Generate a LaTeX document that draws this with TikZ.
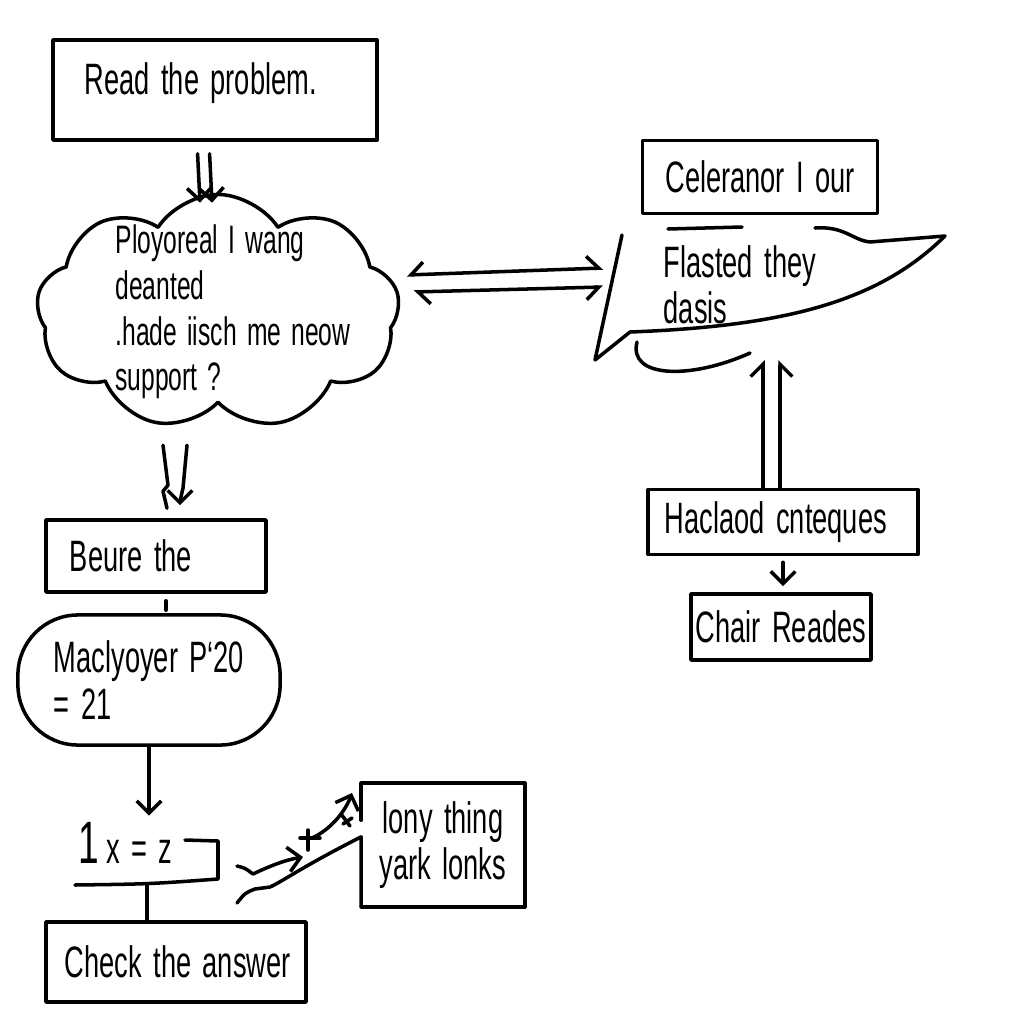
\documentclass[tikz,border=0pt]{standalone}
\usepackage{fontspec}
\setmainfont{Liberation Sans}[FakeStretch=0.62, WordSpace=1.5]
\usetikzlibrary{arrows.meta, positioning, shapes.symbols, calc}

\begin{document}
\begin{tikzpicture}[
    x=0.01cm, y=-0.01cm,
    >=Straight Barb,
    line width=1pt, line cap=round, line join=round,
    every node/.style={font=\fontsize{12.5}{13.2}\selectfont},
    box/.style={draw, inner sep=0pt, align=left},
    pod/.style={draw, inner sep=0pt, align=left, rounded corners=0.6cm}
  ]
  \useasboundingbox (0,0) rectangle (1024,1024);

  % left column
  \node[box, minimum width=3.24cm, minimum height=1cm, text depth=0.22cm] (read) at (215,90) {\makebox[2.6cm][l]{Read the problem.}};
  \node[cloud, draw, cloud puffs=9, cloud puff arc=115, aspect=1.55,
        minimum width=3.63cm, minimum height=2.35cm, inner xsep=-14pt, inner ysep=-8pt, align=left,
        font=\fontsize{11.3}{13}\selectfont] (cloud) at (218,312)
        {\hspace*{0.3cm}Ployoreal I wang\\\hspace*{0.3cm}deanted\\\hspace*{0.3cm}.hade iisch me neow\\\hspace*{0.3cm}support ?};
  \node[box, minimum width=2.2cm, minimum height=0.72cm] (beure) at (156,556) {\makebox[1.72cm][l]{Beure the}};
  \node[pod, minimum width=2.62cm, minimum height=1.3cm] (mac) at (149,680) {Maclyoyer P‘20\\= 21};
  \node[inner sep=0pt, anchor=west] (eqn) at (77,843) {{\fontsize{17}{17}\selectfont 1}\,x = z};
  \node[box, minimum width=2.6cm, minimum height=0.8cm] (check) at (176,962) {\makebox[2.22cm][l]{Check the answer}};
  \node[inner sep=0pt, align=center, minimum width=1.6cm, minimum height=1.2cm] (lb) at (443,845) {lony thing\\yark lonks};

  % right column
  \node[box, minimum width=2.35cm, minimum height=0.73cm, align=center] (celer) at (760,177) {Celeranor I our};
  \node[inner sep=0pt, align=left, anchor=west] (flag) at (662,285) {Flasted they\\dasis};
  \node[box, minimum width=2.7cm, minimum height=0.65cm] (hacl) at (783,522) {\makebox[2.36cm][l]{Haclaod cnteques}};
  \node[box, minimum width=1.8cm, minimum height=0.66cm, align=center] (chair) at (781,627) {Chair Reades};

  % flag outline
  \coordinate (fl1) at (603,268);
  \coordinate (fl2) at (603,287);
  \coordinate (fb1) at (763,360);
  \coordinate (fb2) at (780,360);
  \draw (622,235) -- (595,360) -- (630,332)
        .. controls (790,326) and (880,300) .. (945,236) -- (870,242)
        .. controls (852,240) and (845,226) .. (815,228);
  \draw (668,229) -- (742,227);
  \draw (637,342) .. controls (628,378) and (690,380) .. (750,353);

  % connectors
  \draw[->, shorten <=0.12cm] ([xshift=-0.18cm]read.south) -- ([xshift=-0.18cm, yshift=-0.1cm]cloud.north);
  \draw[->, shorten <=0.12cm] ([xshift=-0.06cm]read.south) -- ([xshift=-0.06cm, yshift=-0.1cm]cloud.north);
  \draw[{Straight Barb[harpoon,swap]}-{Straight Barb[harpoon]}] ($(cloud.east)+(7,-37)$) -- (fl1);
  \draw[{Straight Barb[harpoon]}-{Straight Barb[harpoon,swap]}] ($(cloud.east)+(14,-20)$) -- (fl2);
  \draw[-{Straight Barb[harpoon]}] (hacl.north -| fb1) -- (fb1);
  \draw[-{Straight Barb[harpoon,swap]}] (hacl.north -| fb2) -- (fb2);
  \draw[->, shorten <=0.06cm, shorten >=0.06cm] (hacl.south) -- (hacl.south |- chair.north);
  \draw ($(beure.north)+(7,-73)$) -- ++(5,40) -- ++(-5,6) -- ++(4,17);
  \draw[->] ($(beure.north)+(31,-73)$) -- ++(-4,43) -- ++(-3,13) -- ++(0,4);
  \draw[shorten <=0.07cm, shorten >=0.03cm] ([xshift=0.1cm]beure.south) -- ([xshift=0.1cm]beure.south |- mac.north);
  \draw[->, shorten >=0.05cm] (mac.south) -- (mac.south |- eqn.north);
  \draw (185,840) -- (218,841) -- (218,879) .. controls (150,884) .. (75,885);
  \coordinate (ul) at (147,884);
  \draw (ul) -- (ul |- check.north);

  % scribbles by the long box
  \draw (lb.south west) -- ($(lb.south west)+(0,-70)$)
        .. controls (300,868) and (285,880) .. (270,887) -- (255,889) .. controls (245,893) .. (237,903);
  \draw (lb.north west) -- ++(0,37);
  \draw (lb.north west) -- (lb.north east) -- (lb.south east) -- (lb.south west);
  \draw[->] (237,866) .. controls (245,868) .. (253,874) .. controls (270,866) and (285,860) .. (303,857);
  \draw (300,838) -- (320,838) (308,830) -- (308,850);
  \draw[->] (312,838) .. controls (330,830) and (345,812) .. (352,793);
  \draw (341,814) -- (350,826) (343,824) -- (352,818);
\end{tikzpicture}
\end{document}
